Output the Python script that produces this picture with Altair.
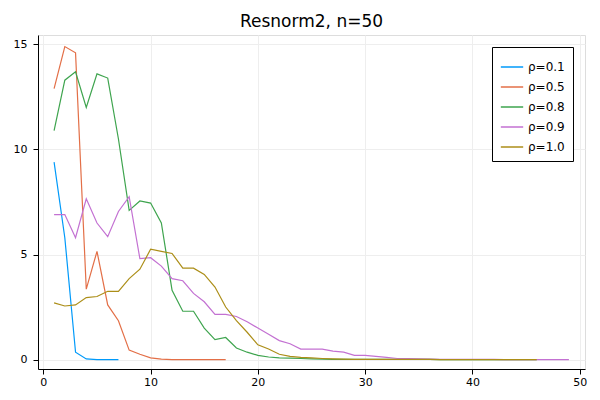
import altair as alt
import pandas as pd

s01 = [9.4, 5.8, 0.35, 0.03, 0.0, 0.0, 0.0]
s05 = [12.9, 14.9, 14.6, 3.35, 5.15, 2.6, 1.85, 0.45, 0.25, 0.08, 0.02, 0, 0, 0, 0, 0, 0]
s08 = [10.9, 13.3, 13.7, 12.0, 13.6, 13.4, 10.5, 7.1, 7.55, 7.45, 6.5, 3.3, 2.3, 2.3, 1.5, 0.95, 1.05,
       0.55, 0.35, 0.2, 0.12, 0.08, 0.07, 0.05, 0.03, 0.02] + [0.01] * 10 + [0] * 10
s09 = [6.9, 6.9, 5.8, 7.65, 6.5, 5.85, 7.05, 7.75, 4.8, 4.85, 4.45, 3.85, 3.75, 3.15, 2.75, 2.15, 2.15,
       2.05, 1.8, 1.5, 1.2, 0.9, 0.75, 0.5, 0.5, 0.5, 0.4, 0.35, 0.2, 0.2, 0.15, 0.1, 0.05, 0.05, 0.03,
       0.02] + [0.01] * 6 + [0] * 7
s10 = [2.7, 2.55, 2.6, 2.95, 3.0, 3.25, 3.25, 3.85, 4.3, 5.25, 5.15, 5.05, 4.35, 4.35, 4.05, 3.45, 2.5,
       1.85, 1.3, 0.7, 0.5, 0.25, 0.15, 0.1, 0.08, 0.05, 0.03, 0.02] + [0.01] * 8 + [0] * 10
names = ["ρ=0.1", "ρ=0.5", "ρ=0.8", "ρ=0.9", "ρ=1.0"]
colors = ["#009AFA", "#E36F47", "#3EA44E", "#C371D2", "#AC8E18"]

rows = []
for n, s in zip(names, [s01, s05, s08, s09, s10]):
    for i, v in enumerate(s):
        rows.append({"x": i + 1, "y": v, "series": n})
df = pd.DataFrame(rows)

chart = alt.Chart(df).mark_line(strokeWidth=1.2).encode(
    x=alt.X("x:Q", scale=alt.Scale(domain=[-0.5, 50.5], nice=False),
            axis=alt.Axis(values=[0, 10, 20, 30, 40, 50], title=None, grid=True, gridColor="#eeeeee",
                          domainColor="black", tickColor="black", labelFontSize=11, labelColor="black")),
    y=alt.Y("y:Q", scale=alt.Scale(domain=[-0.45, 15.45], nice=False),
            axis=alt.Axis(values=[0, 5, 10, 15], title=None, grid=True, gridColor="#eeeeee",
                          domainColor="black", tickColor="black", labelFontSize=11, labelColor="black",
                          labelPadding=6)),
    color=alt.Color("series:N", scale=alt.Scale(domain=names, range=colors),
                    legend=alt.Legend(title=None, orient="top-right", strokeColor="black",
                                      fillColor="white", padding=8, symbolType="stroke",
                                      labelFontSize=12, offset=12, symbolSize=500,
                                      symbolStrokeWidth=1.5)),
    detail="series:N",
).properties(
    width=584, height=384,
    title=alt.TitleParams("Resnorm2, n=50", fontSize=17, fontWeight="normal"),
    autosize=alt.AutoSizeParams(type="fit", contains="padding"),
).configure_view(stroke=None).configure(font="DejaVu Sans")

chart.save("out.html", embed_options={"renderer": "svg", "actions": False})
